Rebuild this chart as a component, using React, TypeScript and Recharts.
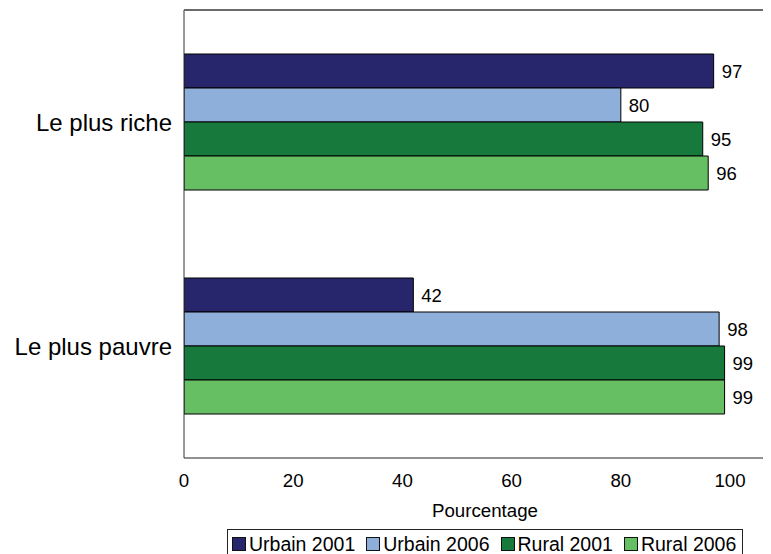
import React from 'react';
import { BarChart, Bar, XAxis, YAxis, LabelList, Legend } from 'recharts';

const categories = ['Le plus riche', 'Le plus pauvre'];
const urbain2001 = [97, 42];
const urbain2006 = [80, 98];
const rural2001 = [95, 99];
const rural2006 = [96, 99];
const xTicks = [0, 20, 40, 60, 80, 100];
const xMax = 107.5;
const seriesNames = ['Urbain 2001', 'Urbain 2006', 'Rural 2001', 'Rural 2006'];
const seriesKeys = ['u2001', 'u2006', 'r2001', 'r2006'];
const seriesColors = ['#27266C', '#8EAFD9', '#177A3C', '#67BF64'];
const axisTitle = 'Pourcentage';

const data = categories.map((name, i) => ({
  name,
  u2001: urbain2001[i],
  u2006: urbain2006[i],
  r2001: rural2001[i],
  r2006: rural2006[i],
}));

const FONT = '"Liberation Sans", Arial, sans-serif';

const LegendBox = () => (
  <div
    style={{
      display: 'inline-flex',
      alignItems: 'center',
      border: '1px solid #222',
      padding: '3px 6px 3px 4px',
      fontFamily: FONT,
      fontSize: 19.5,
      lineHeight: '22px',
      color: '#000',
      background: '#fff',
      whiteSpace: 'nowrap',
    }}
  >
    {seriesNames.map((n, i) => (
      <span
        key={n}
        style={{ display: 'inline-flex', alignItems: 'center', marginRight: i < seriesNames.length - 1 ? 11 : 0 }}
      >
        <span
          style={{
            display: 'inline-block',
            width: 12,
            height: 12,
            border: '1px solid #111',
            background: seriesColors[i],
            marginRight: 3,
          }}
        />
        {n}
      </span>
    ))}
  </div>
);

export default function App() {
  return (
    <div style={{ position: 'relative', width: 763, height: 546, fontFamily: FONT }}>
      <BarChart
        width={763}
        height={546}
        data={data}
        layout="vertical"
        margin={{ top: 2, right: 0, bottom: 37, left: 0 }}
        barSize={34}
        barGap={0}
      >
        <XAxis
          type="number"
          domain={[0, xMax]}
          allowDataOverflow
          ticks={xTicks}
          tickLine={false}
          tickSize={0}
          tickMargin={16}
          height={59}
          axisLine={{ stroke: '#222' }}
          tick={{ fill: '#000', fontSize: 18.7, fontFamily: FONT }}
          label={{
            value: axisTitle,
            position: 'insideBottom',
            offset: 0,
            dx: 7.5,
            fill: '#000',
            fontSize: 18.7,
            fontFamily: FONT,
          }}
        />
        <YAxis
          type="category"
          dataKey="name"
          width={176}
          tickLine={false}
          tickSize={0}
          tickMargin={12}
          axisLine={{ stroke: '#333' }}
          tick={{ fill: '#000', fontSize: 24, fontFamily: FONT }}
        />
        {seriesKeys.map((k, i) => (
          <Bar
            key={k}
            dataKey={k}
            name={seriesNames[i]}
            fill={seriesColors[i]}
            stroke="#000"
            strokeWidth={1}
            isAnimationActive={false}
          >
            <LabelList
              dataKey={k}
              position="right"
              offset={8}
              fill="#000"
              fontSize={18.5}
              fontFamily={FONT}
            />
          </Bar>
        ))}
        <Legend
          content={() => <LegendBox />}
          wrapperStyle={{ position: 'absolute', top: 521, left: 219, width: 'auto', height: 0, bottom: 'auto' }}
        />
      </BarChart>
      <div
        style={{
          position: 'absolute',
          top: 1,
          left: 176,
          right: 0,
          height: 0,
          borderTop: '2px solid #6a6a6a',
          pointerEvents: 'none',
        }}
      />
    </div>
  );
}
